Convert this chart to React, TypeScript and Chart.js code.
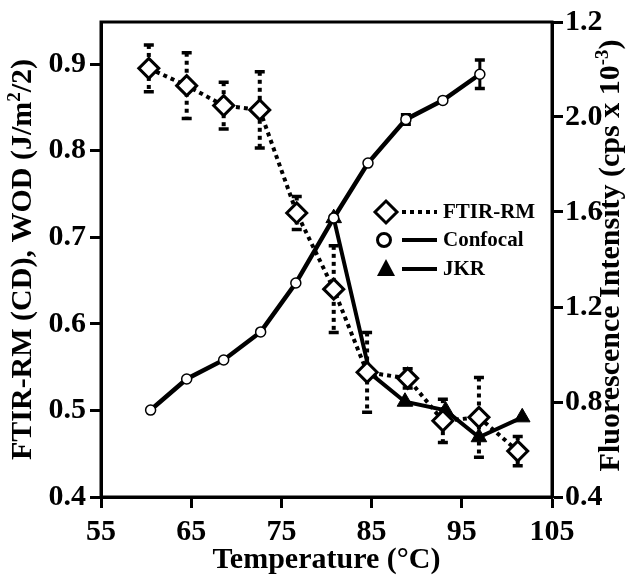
import React, { useEffect, useRef } from "react";
import { Chart, registerables } from "chart.js";

Chart.register(...registerables);

// ---- data ----
const xTickValues = [55, 65, 75, 85, 95, 105];
const leftTickValues = [0.4, 0.5, 0.6, 0.7, 0.8, 0.9];
const leftTickLabels = ["0.4", "0.5", "0.6", "0.7", "0.8", "0.9"];
const rightTickValues = [0.4, 0.8, 1.2, 1.6, 2.0, 2.4];
const rightTickLabels = ["0.4", "0.8", "1.2", "1.6", "2.0", "1.2"];

const ftirX = [60.3, 64.5, 68.6, 72.6, 76.7, 80.8, 84.5, 89.0, 92.9, 96.9, 101.2];
const ftirY = [0.895, 0.875, 0.852, 0.847, 0.728, 0.64, 0.544, 0.537, 0.488, 0.492, 0.453];
const ftirErr = [0.027, 0.038, 0.027, 0.044, 0.019, 0.05, 0.046, 0.011, 0.025, 0.046, 0.017];

const confX = [60.5, 64.5, 68.6, 72.7, 76.6, 80.8, 84.6, 88.8, 92.9, 97.0];
const confY = [0.766, 0.897, 0.977, 1.095, 1.301, 1.575, 1.806, 1.99, 2.07, 2.18];
const confErr = [0.0, 0.0, 0.0, 0.0, 0.0, 0.0, 0.0, 0.02, 0.0, 0.06];

const jkrX = [80.8, 84.8, 88.7, 93.2, 96.9, 101.7];
const jkrY = [0.722, 0.543, 0.51, 0.5, 0.469, 0.492];

const seriesNames = ["FTIR-RM", "Confocal", "JKR"];

const FONT = "'Liberation Serif', 'Times New Roman', serif";

type Part = [string, boolean];

function drawRich(ctx: CanvasRenderingContext2D, parts: Part[], cx: number, baseY: number, size: number) {
  const base = `bold ${size}px ${FONT}`;
  const sup = `bold ${Math.round(size * 0.62)}px ${FONT}`;
  let total = 0;
  parts.forEach(([t, s]) => {
    ctx.font = s ? sup : base;
    total += ctx.measureText(t).width;
  });
  let x = cx - total / 2;
  ctx.textBaseline = "alphabetic";
  ctx.textAlign = "left";
  parts.forEach(([t, s]) => {
    ctx.font = s ? sup : base;
    ctx.fillText(t, x, s ? baseY - size * 0.36 : baseY);
    x += ctx.measureText(t).width;
  });
}

const decorPlugin = {
  id: "decor",
  beforeDatasetsDraw(chart: any) {
    const ctx: CanvasRenderingContext2D = chart.ctx;
    const xs = chart.scales.x;
    const yl = chart.scales.y;
    const yr = chart.scales.y1;
    const bars = (X: number[], Y: number[], E: number[], sc: any, dotted: boolean) => {
      ctx.save();
      ctx.strokeStyle = "#000";
      X.forEach((xv, i) => {
        if (!E[i]) return;
        const px = xs.getPixelForValue(xv);
        const top = sc.getPixelForValue(Y[i] + E[i]);
        const bot = sc.getPixelForValue(Y[i] - E[i]);
        ctx.lineWidth = dotted ? 4 : 3;
        ctx.setLineDash(dotted ? [4, 4] : []);
        ctx.beginPath();
        ctx.moveTo(px, top);
        ctx.lineTo(px, bot);
        ctx.stroke();
        ctx.setLineDash([]);
        ctx.lineWidth = 3.5;
        ctx.beginPath();
        ctx.moveTo(px - 5, top);
        ctx.lineTo(px + 5, top);
        ctx.moveTo(px - 5, bot);
        ctx.lineTo(px + 5, bot);
        ctx.stroke();
      });
      ctx.restore();
    };
    bars(ftirX, ftirY, ftirErr, yl, true);
    bars(confX, confY, confErr, yr, false);
  },
  afterDraw(chart: any) {
    const ctx: CanvasRenderingContext2D = chart.ctx;
    const a = chart.chartArea;
    ctx.save();
    // frame
    ctx.strokeStyle = "#000";
    ctx.lineWidth = 3;
    ctx.strokeRect(a.left, a.top, a.right - a.left, a.bottom - a.top);

    // legend
    const lx = 386;
    const rows = [212, 240, 269];
    ctx.fillStyle = "#000";
    ctx.font = `bold 21px ${FONT}`;
    ctx.textBaseline = "middle";
    ctx.textAlign = "left";
    rows.forEach((ry, i) => {
      ctx.lineWidth = 4;
      ctx.setLineDash(i === 0 ? [4, 4] : []);
      ctx.beginPath();
      ctx.moveTo(lx + 16, ry);
      ctx.lineTo(lx + 51, ry);
      ctx.stroke();
      ctx.setLineDash([]);
      ctx.beginPath();
      if (i === 0) {
        ctx.lineWidth = 3;
        ctx.moveTo(lx, ry - 11);
        ctx.lineTo(lx + 11, ry);
        ctx.lineTo(lx, ry + 11);
        ctx.lineTo(lx - 11, ry);
        ctx.closePath();
        ctx.fillStyle = "#fff";
        ctx.fill();
        ctx.stroke();
      } else if (i === 1) {
        ctx.lineWidth = 3;
        ctx.arc(lx - 2, ry, 6.5, 0, Math.PI * 2);
        ctx.fillStyle = "#fff";
        ctx.fill();
        ctx.stroke();
      } else {
        ctx.moveTo(lx, ry - 10);
        ctx.lineTo(lx + 9, ry + 7);
        ctx.lineTo(lx - 9, ry + 7);
        ctx.closePath();
        ctx.fillStyle = "#000";
        ctx.fill();
      }
      ctx.fillStyle = "#000";
      ctx.fillText(seriesNames[i], lx + 57, ry + 1);
    });

    // axis titles
    ctx.fillStyle = "#000";
    drawRich(ctx, [["Temperature (°C)", false]], (a.left + a.right) / 2, 568, 30);

    ctx.save();
    ctx.translate(31, (a.top + a.bottom) / 2);
    ctx.rotate(-Math.PI / 2);
    drawRich(ctx, [["FTIR-RM (CD), WOD (J/m", false], ["2", true], ["/2)", false]], 0, 0, 30);
    ctx.restore();

    ctx.save();
    ctx.translate(619, (a.top + a.bottom) / 2 - 4);
    ctx.rotate(-Math.PI / 2);
    drawRich(ctx, [["Fluorescence Intensity (cps x 10", false], ["-3", true], [")", false]], 0, 0, 30);
    ctx.restore();

    ctx.restore();
  },
};

export default function App() {
  const ref = useRef<HTMLCanvasElement | null>(null);

  useEffect(() => {
    if (!ref.current) return;
    const tickFont = { family: FONT, size: 30, weight: "bold" as const };
    const chart = new Chart(ref.current, {
      type: "line",
      data: {
        datasets: [
          {
            label: seriesNames[0],
            data: ftirX.map((x, i) => ({ x, y: ftirY[i] })),
            yAxisID: "y",
            borderColor: "#000",
            borderWidth: 4,
            borderDash: [4, 4],
            pointStyle: "rectRot",
            pointRadius: 10,
            pointBorderWidth: 3,
            pointBackgroundColor: "#fff",
            pointBorderColor: "#000",
            tension: 0,
          },
          {
            label: seriesNames[1],
            data: confX.map((x, i) => ({ x, y: confY[i] })),
            yAxisID: "y1",
            borderColor: "#000",
            borderWidth: 4.5,
            pointStyle: "circle",
            pointRadius: 5,
            pointBorderWidth: 1.5,
            pointBackgroundColor: "#fff",
            pointBorderColor: "#000",
            tension: 0,
          },
          {
            label: seriesNames[2],
            data: jkrX.map((x, i) => ({ x, y: jkrY[i] })),
            yAxisID: "y",
            borderColor: "#000",
            borderWidth: 4,
            pointStyle: "triangle",
            pointRadius: 9,
            pointBorderWidth: 1,
            pointBackgroundColor: "#000",
            pointBorderColor: "#000",
            tension: 0,
          },
        ],
      },
      options: {
        responsive: false,
        animation: false,
        devicePixelRatio: 1,
        layout: { padding: { top: 22, left: 0, right: 0, bottom: 0 } },
        plugins: { legend: { display: false }, tooltip: { enabled: false } },
        scales: {
          x: {
            type: "linear",
            min: 55,
            max: 105,
            afterBuildTicks: (ax: any) => {
              ax.ticks = xTickValues.map((v) => ({ value: v }));
            },
            afterFit: (s: any) => {
              s.height = 84;
            },
            ticks: {
              font: tickFont,
              color: "#000",
              padding: 6,
              maxRotation: 0,
              callback: (v: any) => String(v),
            },
            grid: {
              drawOnChartArea: false,
              drawTicks: true,
              tickLength: 11,
              tickWidth: 3,
              tickColor: "#000",
            },
            border: { display: true, width: 3, color: "#000" },
          },
          y: {
            type: "linear",
            position: "left",
            min: 0.4,
            max: 0.9485,
            afterBuildTicks: (ax: any) => {
              ax.ticks = leftTickValues.map((v) => ({ value: v }));
            },
            afterFit: (s: any) => {
              s.width = 101;
            },
            ticks: {
              font: tickFont,
              color: "#000",
              padding: 4,
              callback: (_v: any, i: number) => leftTickLabels[i],
            },
            grid: {
              drawOnChartArea: false,
              drawTicks: true,
              tickLength: 11,
              tickWidth: 3,
              tickColor: "#000",
            },
            border: { display: true, width: 3, color: "#000" },
          },
          y1: {
            type: "linear",
            position: "right",
            min: 0.4,
            max: 2.4,
            afterBuildTicks: (ax: any) => {
              ax.ticks = rightTickValues.map((v) => ({ value: v }));
            },
            afterFit: (s: any) => {
              s.width = 85;
            },
            ticks: {
              font: tickFont,
              color: "#000",
              padding: 2,
              callback: (_v: any, i: number) => rightTickLabels[i],
            },
            grid: {
              drawOnChartArea: false,
              drawTicks: true,
              tickLength: 11,
              tickWidth: 3,
              tickColor: "#000",
            },
            border: { display: true, width: 3, color: "#000" },
          },
        },
      },
      plugins: [decorPlugin],
    });
    return () => chart.destroy();
  }, []);

  return (
    <div style={{ position: "fixed", left: 0, top: 0, width: 637, height: 581, background: "#fff" }}>
      <canvas ref={ref} width={637} height={581} style={{ display: "block", width: 637, height: 581 }} />
    </div>
  );
}
